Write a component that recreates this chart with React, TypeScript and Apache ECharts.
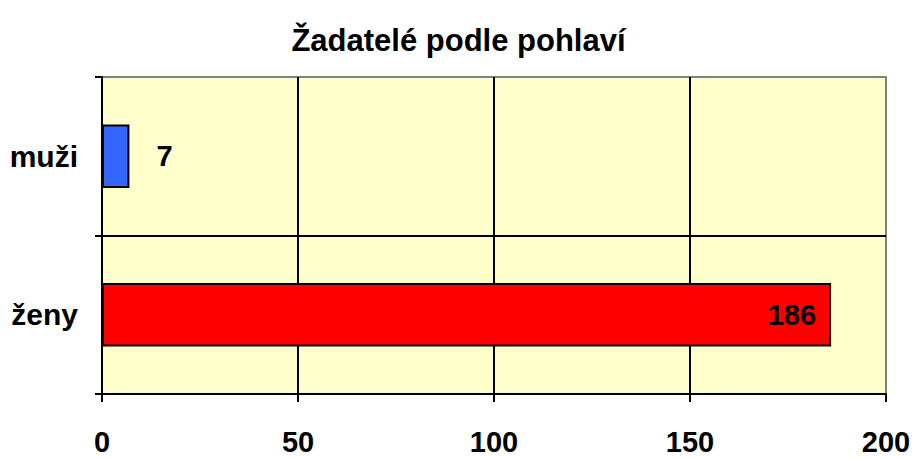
import React, { useEffect, useRef } from "react";
import * as echarts from "echarts";

const categories = ["muži", "ženy"];
const values = [7, 186];
const barColors = ["#3366FF", "#FF0000"];
const xTicks = [0, 50, 100, 150, 200];
const titleText = "Žadatelé podle pohlaví";

export default function App() {
  const ref = useRef<HTMLDivElement>(null);
  useEffect(() => {
    if (!ref.current) return;
    const chart = echarts.init(ref.current, null, { renderer: "svg" });
    const font = "'Liberation Sans', Arial, sans-serif";
    chart.setOption({
      animation: false,
      backgroundColor: "#ffffff",
      title: {
        text: titleText,
        left: "center",
        top: 20,
        textStyle: { fontFamily: font, fontWeight: "bold", fontSize: 31, color: "#000" },
      },
      grid: {
        left: 102,
        right: 31,
        top: 77,
        bottom: 64,
        show: true,
        backgroundColor: "#FFFFCC",
        borderColor: "#808080",
        borderWidth: 2,
      },
      xAxis: {
        type: "value",
        min: xTicks[0],
        max: xTicks[xTicks.length - 1],
        interval: 50,
        axisLine: { show: true, lineStyle: { color: "#000", width: 2 } },
        axisTick: { show: true, length: 8, lineStyle: { color: "#000", width: 2 } },
        axisLabel: {
          fontFamily: font,
          fontWeight: "bold",
          fontSize: 29,
          color: "#000",
          margin: 33,
        },
        splitLine: {
          show: true,
          showMinLine: false,
          showMaxLine: false,
          lineStyle: { color: "#000", width: 2 },
        },
      },
      yAxis: {
        type: "category",
        data: categories,
        inverse: true,
        axisLine: { show: true, lineStyle: { color: "#000", width: 2 } },
        axisTick: { show: true, length: 7, lineStyle: { color: "#000", width: 2 } },
        axisLabel: {
          fontFamily: font,
          fontWeight: "bold",
          fontSize: 30,
          color: "#000",
          margin: 24,
        },
        splitLine: {
          show: true,
          showMinLine: false,
          showMaxLine: false,
          lineStyle: { color: "#000", width: 2 },
        },
      },
      series: [
        {
          type: "bar",
          barWidth: "40%",
          data: values.map((v, i) => ({
            value: v,
            itemStyle: { color: barColors[i], borderColor: "#000", borderWidth: 2 },
            label: {
              show: true,
              position: i === 0 ? "right" : "insideRight",
              distance: i === 0 ? 27 : 15,
              fontFamily: font,
              fontWeight: "bold",
              fontSize: 29,
              color: "#000",
            },
          })),
        },
      ],
    });
    return () => chart.dispose();
  }, []);
  return (
    <div
      ref={ref}
      style={{ position: "absolute", left: 0, top: 0, width: 917, height: 458 }}
    />
  );
}
